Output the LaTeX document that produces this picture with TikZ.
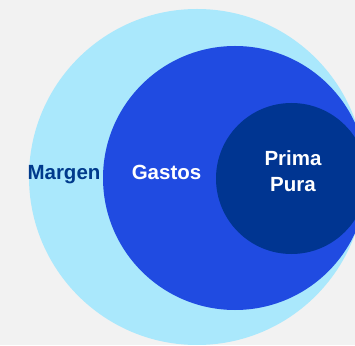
\documentclass[tikz,border=0pt]{standalone}
\usepackage{fontspec}
\setmainfont{Liberation Sans}
\definecolor{pagebg}{HTML}{F2F2F2}
\definecolor{outerblue}{HTML}{AAE8FC}
\definecolor{midblue}{HTML}{204BE1}
\definecolor{innerblue}{HTML}{003591}
\definecolor{labelnavy}{HTML}{003A8C}
\begin{document}
\begin{tikzpicture}[x=1pt,y=1pt,
  ring/.style={circle,draw=none,inner sep=0pt},
  lbl/.style={font=\bfseries\fontsize{20.5}{25.7}\selectfont,anchor=base,inner sep=0pt}]
  \clip (0,0) rectangle (355,345);
  \fill[pagebg] (0,0) rectangle (355,345);
  \useasboundingbox (0,0) rectangle (355,345);
  % nested circles
  \node[ring,fill=outerblue,minimum size=336pt] (margen) at (197,168) {};
  \node[ring,fill=midblue,minimum size=264pt] (gastos) at (235,167) {};
  \node[ring,fill=innerblue,minimum size=151pt] (prima) at (291.5,166.5) {};
  % labels
  \node[lbl,text=labelnavy] (tm) at (64,165) {Margen};
  \node[lbl,text=white] (tg) at (166.5,165.5) {Gastos};
  \node[lbl,text=white] (tp1) at (293,179) {Prima};
  \node[lbl,text=white] (tp2) at (293,153.3) {Pura};
\end{tikzpicture}
\end{document}
